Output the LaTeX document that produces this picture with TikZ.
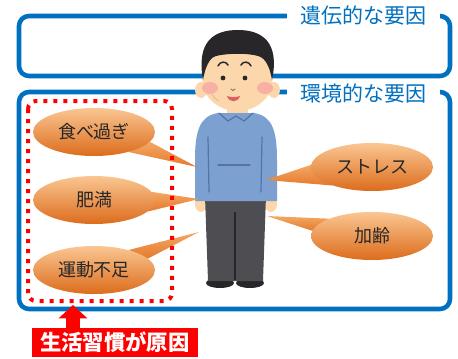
\documentclass[tikz,border=0pt]{standalone}
\usepackage{fontspec}
\newfontfamily\jp{Noto Sans CJK JP}
\usetikzlibrary{shapes.geometric,arrows.meta,backgrounds}

\definecolor{factorblue}{RGB}{0,112,192}
\definecolor{calloutTop}{RGB}{250,198,146}
\definecolor{calloutBottom}{RGB}{220,108,28}
\definecolor{tailTop}{RGB}{244,168,100}
\definecolor{tailBottom}{RGB}{228,122,44}
\definecolor{skincol}{RGB}{252,215,172}
\definecolor{haircol}{RGB}{40,38,40}
\definecolor{shirtcol}{RGB}{124,160,208}
\definecolor{shirtdark}{RGB}{82,116,170}
\definecolor{pantscol}{RGB}{78,78,82}
\definecolor{cheekcol}{RGB}{246,160,160}
\definecolor{mouthcol}{RGB}{222,96,100}

\tikzset{
  factorbox/.style={draw=factorblue, line width=3.4pt, rounded corners=7.5pt},
  factorlabel/.style={fill=white, inner sep=0pt, minimum width=115pt, minimum height=18pt,
    text=factorblue, font=\jp\fontsize{15.75pt}{18pt}\selectfont},
  callout/.style={ellipse, minimum width=91.5pt, minimum height=36pt, inner sep=0pt,
    top color=calloutTop, bottom color=calloutBottom, text=black!85,
    font=\jp\fontsize{13.5pt}{16pt}\selectfont},
  tail/.style={top color=tailTop, bottom color=tailBottom},
  lifestyle/.style={draw=red, line width=3pt, dash pattern=on 3pt off 4.5pt, rounded corners=6pt},
  causebox/.style={fill=red, text=white, inner sep=0pt, minimum width=124.5pt, minimum height=21.75pt,
    font=\jp\bfseries\fontsize{16pt}{18pt}\selectfont},
  causearrow/.style={draw=red, line width=10.5pt, -{Triangle[width=21pt,length=10pt]}},
  feature/.style={draw=haircol, line width=1.1pt, line cap=round},
  shirtline/.style={draw=shirtdark, line width=0.9pt, line cap=round},
}

\begin{document}
\begin{tikzpicture}[x=0.75pt,y=0.75pt,yscale=-1,xscale=1]
\useasboundingbox (0,0) rectangle (458,358);

% Text Node
\node [factorlabel] (iden) at (363.5,15) {遺伝的な要因};
% Text Node
\node [factorlabel] (kankyou) at (363.5,93) {環境的な要因};

% Callouts
\node [callout] (tabesugi) at (94,132) {食べ過ぎ};
\node [callout] (himan) at (94,200) {肥満};
\node [callout] (undou) at (94,270) {運動不足};
\node [callout] (stress) at (372,167) {ストレス};
\node [callout] (karei) at (372,236) {加齢};

% tips of the callout tails
\coordinate (tip1) at (197,167);
\coordinate (tip2) at (199,199);
\coordinate (tip3) at (199,232);
\coordinate (tip4) at (266,180);
\coordinate (tip5) at (267,216);

\begin{pgfonlayer}{background}
% factor frames
\draw [factorbox] (19,16) rectangle (450,76);
\draw [factorbox] (19,92) rectangle (450,309);

% person: neck, ears, face
\fill [skincol] (227,100) rectangle (248,118);
\fill [skincol] (201,90) ellipse (6 and 8);
\fill [skincol] (274,90) ellipse (6 and 8);
\fill [skincol] (237.5,80) ellipse (35 and 31);
% hair
\fill [haircol] (203,80) .. controls (196,40) and (215,30) .. (238,30) .. controls (262,30) and (280,42) .. (272,80) .. controls (270,68) and (266,58) .. (258,56) .. controls (248,53) and (228,53) .. (216,56) .. controls (209,58) and (205,68) .. (203,80) -- cycle;
% cheeks, brows, eyes, nose, mouth
\fill [cheekcol, opacity=0.7] (210,88) ellipse (8 and 6);
\fill [cheekcol, opacity=0.7] (265,88) ellipse (8 and 6);
\draw [feature] (218,66) .. controls (220,61) and (226,61) .. (228,65);
\draw [feature] (241,65) .. controls (243,61) and (249,61) .. (251,66);
\fill [haircol] (223,78) circle (2.4);
\fill [haircol] (245,78) circle (2.4);
\draw [feature, line width=0.6pt, draw=haircol!70] (231,89) .. controls (232,91) and (234,91) .. (235,89);
\fill [mouthcol] (227,96) .. controls (229,103) and (238,103) .. (240,96) .. controls (236,97.5) and (231,97.5) .. (227,96) -- cycle;
\draw [line width=0.5pt, draw=brown!60] (212,94) .. controls (214,98) and (216,100) .. (219,101);

% hands, shoes, trousers
\fill [skincol] (201,204) ellipse (6 and 8);
\fill [skincol] (271,204) ellipse (6 and 8);
\fill [haircol] (220,283) ellipse (14 and 5);
\fill [haircol] (250,283) ellipse (14 and 5);
\fill [pantscol] (205,196) -- (266,196) -- (263,281) -- (208,281) -- cycle;
\draw [draw=haircol, line width=0.9pt] (235,212) -- (235,280);

% shirt
\fill [shirtcol] (218,113) .. controls (200,116) and (195,130) .. (195,160) -- (195,201) -- (277,201) -- (277,160) .. controls (277,130) and (272,116) .. (254,113) -- cycle;
\draw [shirtline] (208,137) -- (209,192);
\draw [shirtline] (262,137) -- (261,192);
\draw [shirtline] (218,165) -- (250,165);
\draw [shirtline] (219,113) -- (228,121) -- (236,116) -- (244,121) -- (253,113);

% callout tails
\shade [tail] (tabesugi.-10) -- (tip1) -- (tabesugi.-30) -- cycle;
\shade [tail] (himan.8) -- (tip2) -- (himan.-12) -- cycle;
\shade [tail] (undou.30) -- (tip3) -- (undou.12) -- cycle;
\shade [tail] (stress.178) -- (tip4) -- (stress.205) -- cycle;
\shade [tail] (karei.158) -- (tip5) -- (karei.175) -- cycle;
\end{pgfonlayer}

% lifestyle group
\draw [lifestyle] (28,101) rectangle (172,301);
\coordinate (arrowtip) at (73,305);
\node [causebox] (cause) at (115,342.5) {生活習慣が原因};
\draw [causearrow] (cause.north -| arrowtip) -- (arrowtip);
\end{tikzpicture}
\end{document}
